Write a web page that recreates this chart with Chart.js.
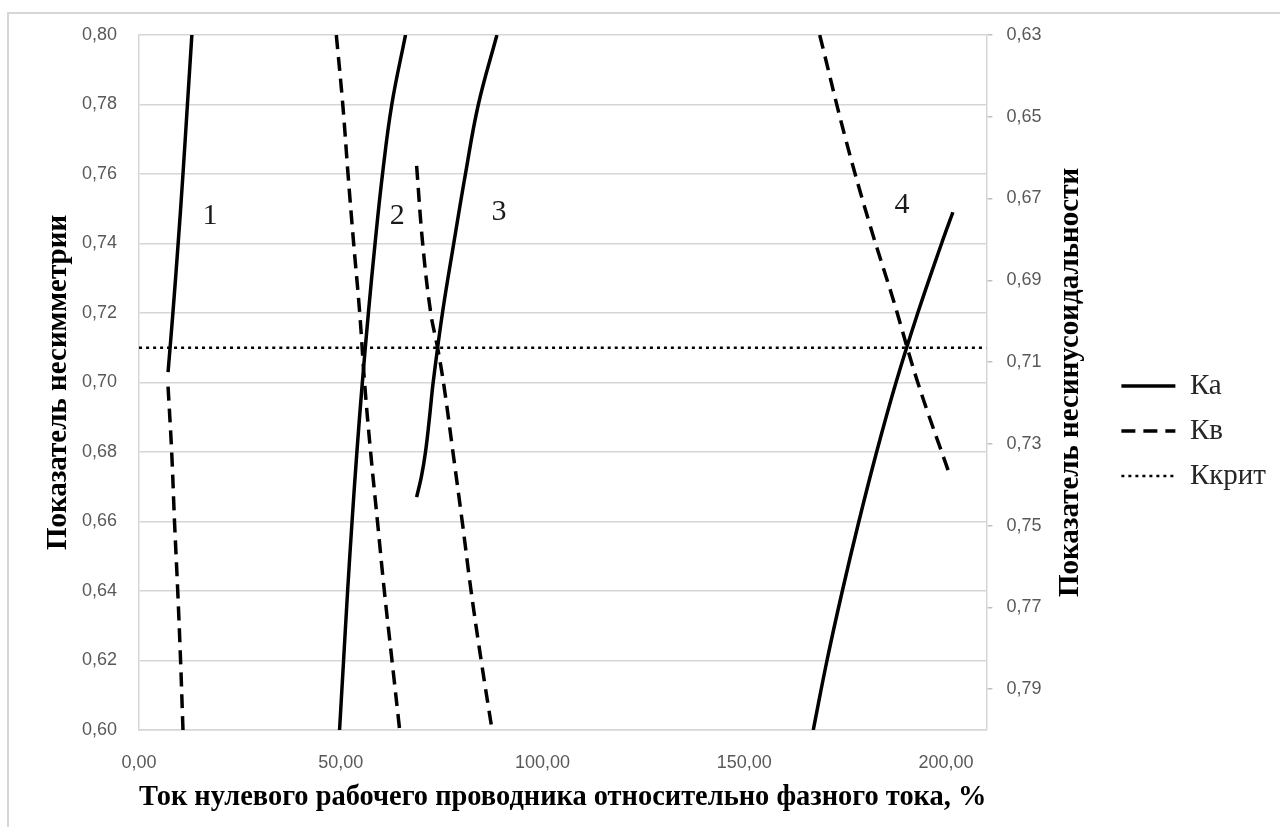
<!DOCTYPE html>
<html>
<head>
<meta charset="utf-8">
<script src="https://cdn.jsdelivr.net/npm/chart.js@4.4.1/dist/chart.umd.min.js"></script>
<style>
html, body { margin: 0; padding: 0; background: #fff; overflow: hidden; }
#wrap { position: relative; width: 1280px; height: 827px; overflow: hidden; }
#frame { position: absolute; left: 7px; top: 12px; width: 1300px; height: 850px; border-top: 2px solid #d6d6d6; border-left: 2px solid #d6d6d6; }
canvas { position: absolute; left: 0; top: 0; }
</style>
</head>
<body>
<div id="wrap">
    <div id="frame"></div>
    <canvas id="chart" width="1280" height="827"></canvas>
</div>
<script>
// axes
var xTicks = [0, 50, 100, 150, 200];
var xTickLabels = ['0,00', '50,00', '100,00', '150,00', '200,00'];
var yTicks = [0.60, 0.62, 0.64, 0.66, 0.68, 0.70, 0.72, 0.74, 0.76, 0.78, 0.80];
var yTickLabels = ['0,60', '0,62', '0,64', '0,66', '0,68', '0,70', '0,72', '0,74', '0,76', '0,78', '0,80'];
var y2Ticks = [0.63, 0.65, 0.67, 0.69, 0.71, 0.73, 0.75, 0.77, 0.79];
var y2TickLabels = ['0,63', '0,65', '0,67', '0,69', '0,71', '0,73', '0,75', '0,77', '0,79'];

var xTitle = 'Ток нулевого рабочего проводника относительно фазного тока, %';
var yTitle = 'Показатель несимметрии';
var y2Title = 'Показатель несинусоидальности';

// Ка, left axis  [x, y]
var ka1 = [[7.2, 0.703], [8.4, 0.720], [9.7, 0.740], [10.9, 0.760], [12.0, 0.780], [13.1, 0.800]];
var ka2 = [[49.7, 0.60], [50.7, 0.62], [51.7, 0.64], [52.8, 0.66], [54.0, 0.68], [55.35, 0.70], [56.85, 0.72], [58.5, 0.74], [60.35, 0.76], [62.65, 0.78], [66.05, 0.80]];
var ka3 = [[68.8, 0.667], [70.0, 0.673], [71.0, 0.680], [72.0, 0.690], [72.9, 0.700], [75.2, 0.720], [78.0, 0.740], [80.9, 0.760], [84.1, 0.780], [88.7, 0.800]];
var ka4 = [[167.1, 0.60], [170.5, 0.62], [174.3, 0.64], [178.4, 0.66], [182.8, 0.68], [187.6, 0.70], [193.0, 0.72], [198.9, 0.74], [201.7, 0.749]];

// Кв, right axis (reversed)  [x, y]
var kv1 = [[7.2, 0.716], [8.1, 0.732], [8.8, 0.749], [9.6, 0.766], [10.3, 0.783], [10.9, 0.800]];
var kv2 = [[48.9, 0.630], [50.5, 0.647], [51.8, 0.664], [53.2, 0.681], [54.7, 0.698], [55.9, 0.715], [57.4, 0.732], [59.1, 0.749], [60.8, 0.766], [62.7, 0.783], [64.6, 0.800]];
var kv3 = [[68.8, 0.662], [70.3, 0.681], [72.3, 0.698], [74.0, 0.7065], [75.6, 0.716], [77.8, 0.732], [80.1, 0.749], [82.3, 0.766], [84.8, 0.783], [87.5, 0.800]];
var kv4 = [[168.7, 0.630], [175.0, 0.655], [181.0, 0.676], [187.0, 0.695], [193.0, 0.715], [200.7, 0.737]];

// Ккрит
var kcrit = [[0, 0.71], [210, 0.71]];

// curve numbers
var curveNames = ['1', '2', '3', '4'];
var curveNameX = [17.6, 64.0, 89.2, 189.1];
var curveNameY = [0.748, 0.748, 0.749, 0.751];

function toPoints(arr) {
    return arr.map(function (p) {
        return {x: p[0], y: p[1]};
    });
}

function line(label, arr, axis, dash, width, inLegend) {
    return {
        label: label,
        data: toPoints(arr),
        yAxisID: axis,
        borderColor: '#000',
        backgroundColor: '#000',
        borderWidth: width,
        borderDash: dash,
        pointRadius: 0,
        tension: 0.4,
        fill: false,
        inLegend: inLegend
    };
}

var solid = [];
var dashed = [14, 8];
var dotted = [3, 4];

var datasets = [
    line('Ка', ka1, 'y', solid, 3.5, true),
    line('Ка', ka2, 'y', solid, 3.5, false),
    line('Ка', ka3, 'y', solid, 3.5, false),
    line('Ка', ka4, 'y', solid, 3.5, false),
    line('Кв', kv1, 'y2', dashed, 3.5, true),
    line('Кв', kv2, 'y2', dashed, 3.5, false),
    line('Кв', kv3, 'y2', dashed, 3.5, false),
    line('Кв', kv4, 'y2', dashed, 3.5, false),
    line('Ккрит', kcrit, 'y', dotted, 2.5, true)
];

var serif = '"Liberation Serif", "Times New Roman", serif';
var tickFont = {family: '"Liberation Sans", Arial, sans-serif', size: 18};
var titleFont = {family: serif, size: 29, weight: 'bold'};

function fixedTicks(values) {
    return function (scale) {
        scale.ticks = values.map(function (v) {
            return {value: v};
        });
    };
}

var rightTitlePlugin = {
    id: 'rightTitle',
    afterDraw: function (chart) {
        var s = chart.scales.y2;
        var ctx = chart.ctx;
        ctx.save();
        ctx.translate(s.left + 84, (s.top + s.bottom) / 2);
        ctx.rotate(-Math.PI / 2);
        ctx.font = 'bold 29px ' + serif;
        ctx.fillStyle = '#000';
        ctx.textAlign = 'center';
        ctx.textBaseline = 'middle';
        ctx.fillText(y2Title, 0, 0);
        ctx.restore();
    }
};

var curveNamesPlugin = {
    id: 'curveNames',
    afterDatasetsDraw: function (chart) {
        var ctx = chart.ctx;
        var xs = chart.scales.x, ys = chart.scales.y;
        ctx.save();
        ctx.font = '30px ' + serif;
        ctx.fillStyle = '#1a1a1a';
        ctx.textAlign = 'center';
        ctx.textBaseline = 'middle';
        curveNames.forEach(function (t, i) {
            ctx.fillText(t, xs.getPixelForValue(curveNameX[i]), ys.getPixelForValue(curveNameY[i]));
        });
        ctx.restore();
    }
};

new Chart(document.getElementById('chart'), {
    type: 'line',
    data: {datasets: datasets},
    plugins: [rightTitlePlugin, curveNamesPlugin],
    options: {
        responsive: false,
        animation: false,
        devicePixelRatio: 1,
        layout: {padding: {top: 35, left: 0, right: 4, bottom: 0}},
        plugins: {
            tooltip: {enabled: false},
            legend: {
                position: 'right',
                align: 'center',
                labels: {
                    usePointStyle: true,
                    pointStyle: 'line',
                    pointStyleWidth: 54,
                    padding: 16,
                    color: '#262626',
                    font: {family: serif, size: 29},
                    generateLabels: function (chart) {
                        var items = Chart.defaults.plugins.legend.labels.generateLabels(chart);
                        items.forEach(function (item) {
                            var ds = chart.data.datasets[item.datasetIndex];
                            item.lineDash = ds.borderDash;
                            item.lineWidth = ds.borderWidth;
                            item.strokeStyle = ds.borderColor;
                        });
                        return items;
                    },
                    filter: function (item, data) {
                        return data.datasets[item.datasetIndex].inLegend;
                    }
                }
            }
        },
        scales: {
            x: {
                type: 'linear',
                position: 'bottom',
                min: 0,
                max: 210,
                afterBuildTicks: fixedTicks(xTicks),
                afterFit: function (s) { s.height = 97; },
                grid: {display: false},
                border: {display: true, color: '#d6d6d6', width: 1.5},
                ticks: {
                    padding: 14,
                    color: '#595959',
                    font: tickFont,
                    maxRotation: 0,
                    callback: function (v, i) { return xTickLabels[i]; }
                },
                title: {display: true, text: xTitle, color: '#000', font: titleFont, padding: {top: 0, bottom: 12}}
            },
            y: {
                type: 'linear',
                position: 'left',
                min: 0.60,
                max: 0.80,
                afterBuildTicks: fixedTicks(yTicks),
                afterFit: function (s) { s.width = 139; },
                grid: {color: '#d6d6d6', lineWidth: 1.5, drawTicks: false},
                border: {display: true, color: '#d6d6d6', width: 1.5},
                ticks: {
                    padding: 22,
                    color: '#595959',
                    font: tickFont,
                    callback: function (v, i) { return yTickLabels[i]; }
                },
                title: {display: true, text: yTitle, color: '#000', font: titleFont, padding: {top: 41, bottom: 0}}
            },
            y2: {
                type: 'linear',
                position: 'right',
                min: 0.63,
                max: 0.80,
                reverse: true,
                afterBuildTicks: fixedTicks(y2Ticks),
                afterFit: function (s) { s.width = 119; },
                grid: {drawOnChartArea: false, drawTicks: true, tickLength: 6, color: '#bfbfbf', lineWidth: 1.5},
                border: {display: true, color: '#d6d6d6', width: 1.5},
                ticks: {
                    padding: 14,
                    color: '#595959',
                    font: tickFont,
                    callback: function (v, i) { return y2TickLabels[i]; }
                }
            }
        }
    }
});
</script>
</body>
</html>
